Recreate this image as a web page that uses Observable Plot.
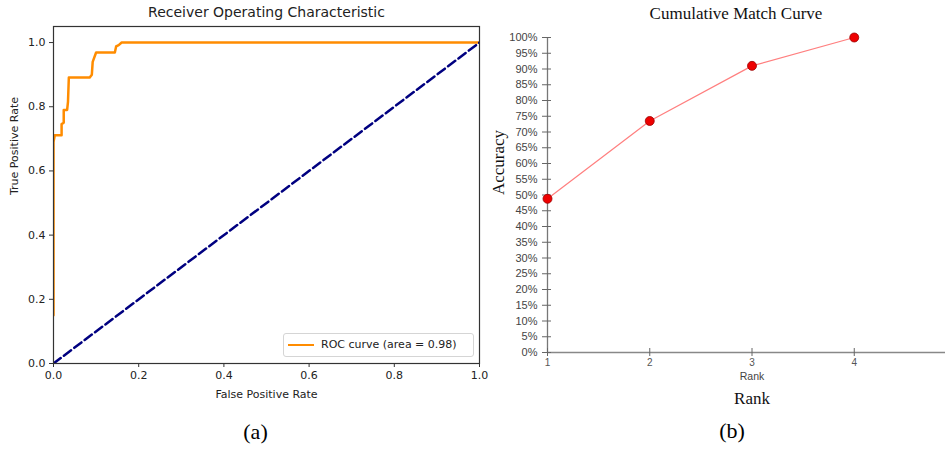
<!DOCTYPE html>
<html>
<head>
<meta charset="utf-8">
<script src="https://cdn.jsdelivr.net/npm/d3@7"></script>
<script src="https://cdn.jsdelivr.net/npm/@observablehq/plot@0.6"></script>
<style>
  html, body { margin: 0; padding: 0; background: white; width: 945px; height: 450px; overflow: hidden; }
  #wrap { position: relative; width: 945px; height: 450px; }
  #a { position: absolute; left: 0; top: 0; width: 490px; height: 450px; }
  #b { position: absolute; left: 486px; top: 0; width: 459px; height: 450px; overflow: hidden; }
  #a svg, #b svg { max-width: none !important; }
  #legend { position: absolute; left: 283px; top: 333px; width: 189px; height: 22px; border: 1px solid #d5d5d5; border-radius: 3px; background: rgba(255,255,255,0.85); font-family: "DejaVu Sans"; font-size: 11px; color: #222; }
  #legend .sample { position: absolute; left: 4px; top: 10px; width: 26px; height: 0; border-top: 2.5px solid #ff8c00; }
  #legend .lab { position: absolute; left: 37px; top: 4px; white-space: nowrap; }
</style>
</head>
<body>
<div id="wrap">
  <div id="a"></div>
  <div id="b"></div>
  <div id="legend"><span class="sample"></span><span class="lab"></span></div>
</div>
<script>
// ---- Panel (a): ROC ----
const rocTitle = "Receiver Operating Characteristic";
const rocXLabel = "False Positive Rate";
const rocYLabel = "True Positive Rate";
const rocArea = 0.98;
const fpr = [0, 0, 0.003, 0.019, 0.019, 0.024, 0.024, 0.032, 0.034, 0.036, 0.085, 0.09, 0.092, 0.1, 0.144, 0.147, 0.153, 0.16, 1];
const tpr = [0.15, 0.69, 0.711, 0.711, 0.746, 0.75, 0.79, 0.79, 0.815, 0.891, 0.891, 0.9, 0.94, 0.969, 0.969, 0.988, 0.992, 1.0, 1.0];
const chanceX = [0, 1];
const chanceY = [0, 1];
const rocTicks = [0, 0.2, 0.4, 0.6, 0.8, 1.0];

// ---- Panel (b): CMC ----
const cmcTitle = "Cumulative Match Curve";
const cmcYLabel = "Accuracy";
const cmcXLabel = "Rank";
const ranks = [1, 2, 3, 4];
const accuracy = [0.488, 0.735, 0.91, 1.0];
const cmcYTicks = [0, 0.05, 0.1, 0.15, 0.2, 0.25, 0.3, 0.35, 0.4, 0.45, 0.5, 0.55, 0.6, 0.65, 0.7, 0.75, 0.8, 0.85, 0.9, 0.95, 1.0];
const cmcXTicks = [1, 2, 3, 4];
const cmcXDomain = [1, 5];

const rocData = fpr.map((x, i) => ({x, y: tpr[i]}));
const chanceData = chanceX.map((x, i) => ({x, y: chanceY[i]}));

const plotA = Plot.plot({
  width: 490, height: 450,
  marginLeft: 53, marginRight: 11, marginTop: 26, marginBottom: 87,
  style: {background: "transparent", fontFamily: "DejaVu Sans", fontSize: "11px", color: "#222", overflow: "visible", maxWidth: "none"},
  x: {domain: [0, 1]},
  y: {domain: [0, 1.05]},
  marks: [
    Plot.line(rocData, {x: "x", y: "y", stroke: "#ff8c00", strokeWidth: 2.5, clip: true}),
    Plot.line(chanceData, {x: "x", y: "y", stroke: "#000080", strokeWidth: 2.5, strokeDasharray: "9,4", clip: true}),
    Plot.axisX({ticks: rocTicks, tickSize: 4, tickPadding: 4, tickFormat: d3.format(".1f"), label: null, stroke: "#333"}),
    Plot.axisY({ticks: rocTicks, tickSize: 4, tickPadding: 4, tickFormat: d3.format(".1f"), label: null, stroke: "#333"}),
    Plot.frame({stroke: "#333", strokeWidth: 1.2}),
    Plot.text([rocTitle], {text: d => d, frameAnchor: "top", lineAnchor: "middle", dy: -14, fontSize: 14, fill: "#222"}),
    Plot.text([rocXLabel], {text: d => d, frameAnchor: "bottom", lineAnchor: "middle", dy: 31, fontSize: 11, fill: "#222"}),
    Plot.text([rocYLabel], {text: d => d, frameAnchor: "left", lineAnchor: "middle", dx: -39, rotate: -90, fontSize: 11, fill: "#222"}),
    Plot.text(["(a)"], {text: d => d, frameAnchor: "bottom", lineAnchor: "middle", dx: -11, dy: 68, fontSize: 22, fontFamily: "Liberation Serif", fill: "#000"})
  ]
});
document.getElementById("a").appendChild(plotA);
document.querySelector("#legend .lab").textContent = `ROC curve (area = ${rocArea.toFixed(2)})`;

const cmcData = ranks.map((r, i) => ({r, a: accuracy[i]}));
const pct = d => Math.round(d * 100) + "%";

const plotB = Plot.plot({
  width: 470, height: 450,
  marginLeft: 61, marginRight: 0, marginTop: 37, marginBottom: 98,
  style: {background: "transparent", fontFamily: "Liberation Sans", fontSize: "11px", color: "#444", overflow: "visible", maxWidth: "none"},
  x: {domain: cmcXDomain},
  y: {domain: [0, 1]},
  marks: [
    Plot.ruleX([cmcXDomain[0]], {stroke: "#777", strokeWidth: 1.3}),
    Plot.ruleY([0], {stroke: "#888", strokeWidth: 1.5}),
    Plot.axisY({ticks: cmcYTicks, tickSize: 9, dx: 4, tickFormat: () => "", label: null, stroke: "#666"}),
    Plot.axisY({ticks: cmcYTicks, tickSize: 0, tickPadding: 10, tickFormat: pct, label: null, fill: "#444", fontSize: 11}),
    Plot.axisX({ticks: cmcXTicks, tickSize: 8, dy: -4, tickFormat: () => "", label: null, stroke: "#666"}),
    Plot.axisX({ticks: cmcXTicks, tickSize: 0, tickPadding: 6, tickFormat: d3.format("d"), label: null, fill: "#555", fontSize: 10}),
    Plot.line(cmcData, {x: "r", y: "a", stroke: "#ff7f7f", strokeWidth: 1.2}),
    Plot.dot(cmcData, {x: "r", y: "a", r: 4.5, fill: "#ee0000", stroke: "#990000", strokeWidth: 0.8}),
    Plot.text([cmcTitle], {text: d => d, frameAnchor: "top", lineAnchor: "middle", dx: -16, dy: -24, fontSize: 17, fontFamily: "Liberation Serif", fill: "#111"}),
    Plot.text([cmcXLabel], {text: d => d, frameAnchor: "bottom", lineAnchor: "middle", dy: 24, fontSize: 10.5, fontFamily: "Liberation Sans", fill: "#444"}),
    Plot.text([cmcXLabel], {text: d => d, frameAnchor: "bottom", lineAnchor: "middle", dy: 46, fontSize: 17, fontFamily: "Liberation Serif", fill: "#111"}),
    Plot.text([cmcYLabel], {text: d => d, frameAnchor: "left", lineAnchor: "middle", dx: -49, rotate: -90, fontSize: 17, fontFamily: "Liberation Serif", fill: "#111"}),
    Plot.text(["(b)"], {text: d => d, frameAnchor: "bottom", lineAnchor: "middle", dx: -20, dy: 78, fontSize: 22, fontFamily: "Liberation Serif", fill: "#000"})
  ]
});
document.getElementById("b").appendChild(plotB);
</script>
</body>
</html>
